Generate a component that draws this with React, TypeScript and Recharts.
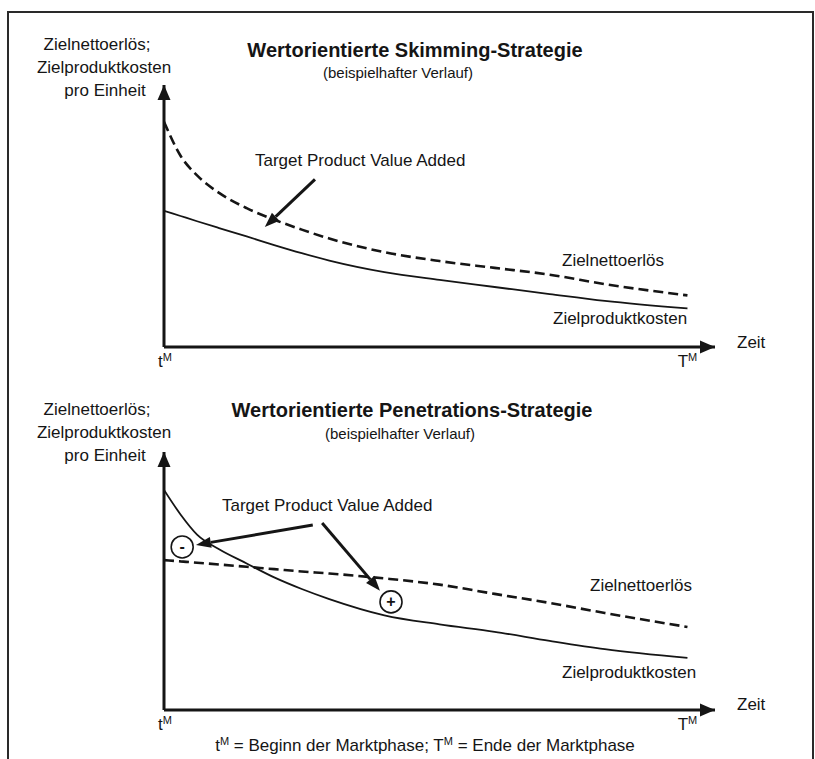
import React from "react"
import { LineChart, Line, XAxis, YAxis, ReferenceLine, ReferenceDot } from "recharts"

// Zeitachse (tM .. TM), Werte in % der Achsenhöhe
const timeSteps = [0, 3, 6, 10, 15, 20, 25, 30, 40, 50, 60, 70, 80, 95]
const skimRevenue = [86, 73, 65.5, 58.8, 53, 48.6, 44.8, 41.4, 36.2, 32.8, 30.2, 27.6, 24, 19.7]
const skimCost = [52, 50, 48, 45.4, 42.2, 38.9, 35.8, 33, 28.6, 25.6, 22.9, 20.2, 17.6, 14.7]
const penRevenue = [58.1, 57.6, 57.1, 56.4, 55.5, 54.6, 53.7, 52.9, 51, 48.6, 45, 41.5, 37.6, 32.2]
const penCost = [85.3, 75.8, 68, 62.3, 56.8, 51.4, 46.9, 43, 36.7, 33.2, 30.3, 26.8, 23.6, 20.2]
const phaseTicks = [0, 95]

// Annotationen (Datenkoordinaten)
const skimArrow = [{ x: 27.4, y: 64 }, { x: 18.3, y: 45.8 }]
const penArrowMinus = [{ x: 27, y: 71.7 }, { x: 5.8, y: 64 }]
const penArrowPlus = [{ x: 28.7, y: 72.5 }, { x: 39.2, y: 46.2 }]
const penMinus = { x: 3.3, y: 63.2 }
const penPlus = { x: 41.2, y: 41.9 }

const FONT = "'Liberation Sans', Arial, Helvetica, sans-serif"
const INK = "#151515"

const skimData = timeSteps.map((x, i) => ({ x, revenue: skimRevenue[i], cost: skimCost[i] }))
const penData = timeSteps.map((x, i) => ({ x, revenue: penRevenue[i], cost: penCost[i] }))

function PhaseTick({ x, y, payload }: any) {
  const first = payload.value === 0
  return (
    <text x={first ? x - 6 : x} y={y + 12} textAnchor={first ? "start" : "middle"} fontSize={17} fill={INK} fontFamily={FONT}>
      {first ? "t" : "T"}
      <tspan fontSize={11} dy={-6}>M</tspan>
    </text>
  )
}

function ArrowShape(props: any) {
  const { x1, y1, x2, y2 } = props
  const a = Math.atan2(y2 - y1, x2 - x1)
  const len = 15
  const half = 5.5
  const bx = x2 - len * Math.cos(a)
  const by = y2 - len * Math.sin(a)
  const pts = [
    `${x2},${y2}`,
    `${bx + half * Math.sin(a)},${by - half * Math.cos(a)}`,
    `${bx - half * Math.sin(a)},${by + half * Math.cos(a)}`,
  ].join(" ")
  return (
    <g>
      <line x1={x1} y1={y1} x2={bx} y2={by} stroke={INK} strokeWidth={3} />
      <polygon points={pts} fill={INK} />
    </g>
  )
}

const xHead = ({ cx, cy }: any) => (
  <polygon points={`${cx},${cy} ${cx - 15},${cy - 6.5} ${cx - 15},${cy + 6.5}`} fill={INK} />
)
const yHead = ({ cx, cy }: any) => (
  <polygon points={`${cx},${cy} ${cx - 6.5},${cy + 15} ${cx + 6.5},${cy + 15}`} fill={INK} />
)

const signShape = (sign: string) => ({ cx, cy }: any) => (
  <g>
    <circle cx={cx} cy={cy} r={11} fill="#fff" stroke={INK} strokeWidth={1.6} />
    <text x={cx} y={cy + 5} textAnchor="middle" fontSize={16} fontWeight="bold" fill={INK} fontFamily={FONT}>
      {sign}
    </text>
  </g>
)

function Panel({ data, top, height, margin, children }: any) {
  return (
    <div style={{ position: "absolute", left: 0, top }}>
      <LineChart width={815} height={height} data={data} margin={margin}>
        <XAxis
          dataKey="x"
          type="number"
          domain={[0, 100]}
          allowDataOverflow
          ticks={phaseTicks}
          interval={0}
          height={30}
          tickLine={false}
          axisLine={{ stroke: INK, strokeWidth: 3 }}
          tick={<PhaseTick />}
        />
        <YAxis type="number" domain={[0, 100]} allowDataOverflow hide />
        <ReferenceLine x={0} stroke={INK} strokeWidth={3} ifOverflow="visible" />
        <ReferenceDot x={100} y={0} r={0} ifOverflow="visible" shape={xHead} />
        <ReferenceDot x={0} y={100} r={0} ifOverflow="visible" shape={yHead} />
        <Line type="monotone" dataKey="revenue" stroke={INK} strokeWidth={2.6} strokeDasharray="10 5" dot={false} isAnimationActive={false} />
        <Line type="monotone" dataKey="cost" stroke={INK} strokeWidth={1.8} dot={false} isAnimationActive={false} />
        {children}
      </LineChart>
    </div>
  )
}

function Label({ x, y, size = 17, bold = false, align = "left", children }: any) {
  const tx = align === "center" ? "translate(-50%, -50%)" : "translate(0, -50%)"
  return (
    <div
      style={{
        position: "absolute",
        left: x,
        top: y,
        transform: tx,
        fontSize: size,
        fontWeight: bold ? "bold" : "normal",
        whiteSpace: "nowrap",
        lineHeight: 1,
        color: INK,
        textAlign: align,
      }}
    >
      {children}
    </div>
  )
}

function YTitle({ y }: { y: number }) {
  return (
    <>
      <Label x={97} y={y} align="center">Zielnettoerlös;</Label>
      <Label x={104} y={y + 23} align="center">Zielproduktkosten</Label>
      <Label x={105} y={y + 46} align="center">pro Einheit</Label>
    </>
  )
}

export default function App() {
  return (
    <div style={{ position: "fixed", left: 0, top: 0, width: 815, height: 759, background: "#fff", overflow: "hidden", fontFamily: FONT }}>
      <div style={{ position: "absolute", left: 7, top: 11, width: 803, height: 800, border: "2px solid #2a2a2a" }} />

      <Panel data={skimData} top={0} height={380} margin={{ top: 85, right: 100, bottom: 3, left: 164 }}>
        <ReferenceLine segment={skimArrow} ifOverflow="visible" shape={ArrowShape} />
      </Panel>

      <Panel data={penData} top={380} height={379} margin={{ top: 72, right: 100, bottom: 19, left: 164 }}>
        <ReferenceLine segment={penArrowMinus} ifOverflow="visible" shape={ArrowShape} />
        <ReferenceLine segment={penArrowPlus} ifOverflow="visible" shape={ArrowShape} />
        <ReferenceDot x={penMinus.x} y={penMinus.y} r={11} ifOverflow="visible" shape={signShape("-")} />
        <ReferenceDot x={penPlus.x} y={penPlus.y} r={11} ifOverflow="visible" shape={signShape("+")} />
      </Panel>

      {/* oberes Diagramm */}
      <YTitle y={44} />
      <Label x={415} y={50} size={20} bold align="center">Wertorientierte Skimming-Strategie</Label>
      <Label x={398} y={72} size={15} align="center">(beispielhafter Verlauf)</Label>
      <Label x={255} y={160}>Target Product Value Added</Label>
      <Label x={562} y={260}>Zielnettoerlös</Label>
      <Label x={553} y={318}>Zielproduktkosten</Label>
      <Label x={737} y={342}>Zeit</Label>

      {/* unteres Diagramm */}
      <YTitle y={409} />
      <Label x={412} y={410} size={20} bold align="center">Wertorientierte Penetrations-Strategie</Label>
      <Label x={400} y={433} size={15} align="center">(beispielhafter Verlauf)</Label>
      <Label x={222} y={505}>Target Product Value Added</Label>
      <Label x={590} y={585}>Zielnettoerlös</Label>
      <Label x={562} y={672}>Zielproduktkosten</Label>
      <Label x={737} y={704}>Zeit</Label>

      <Label x={425} y={745} align="center">
        t<sup style={{ fontSize: 11 }}>M</sup> = Beginn der Marktphase; T<sup style={{ fontSize: 11 }}>M</sup> = Ende der Marktphase
      </Label>
    </div>
  )
}
